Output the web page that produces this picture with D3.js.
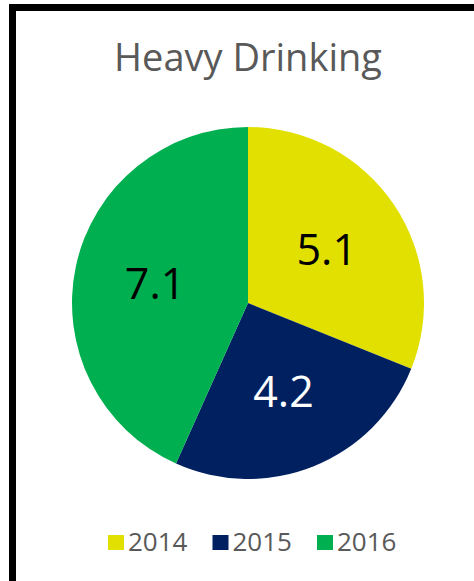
<!DOCTYPE html>
<html>
<head>
<meta charset="utf-8">
<script src="https://cdn.jsdelivr.net/npm/d3@7"></script>
<style>
  html, body { margin: 0; padding: 0; background: #fff; }
  svg { display: block; }
</style>
</head>
<body>
<div id="chart"></div>
<script>
const years = ['2014', '2015', '2016'];
const values = [5.1, 4.2, 7.1];
const colors = ['#E1E000', '#002060', '#00B050'];
const labelColors = ['#000000', '#ffffff', '#000000'];

const width = 474,
  height = 581,
  radius = 176,
  center = { x: 248, y: 303 };

const svg = d3.select('#chart').
  append('svg').
  attr('width', width).
  attr('height', height);

svg.append('rect').
  attr('width', width).
  attr('height', height).
  attr('fill', '#fff');

// frame lines (top and left)
svg.append('rect').
  attr('x', 9).attr('y', 4).
  attr('width', width - 9).attr('height', 7).
  attr('fill', '#000');
svg.append('rect').
  attr('x', 9).attr('y', 4).
  attr('width', 7).attr('height', height - 4).
  attr('fill', '#000');

svg.append('text').
  attr('x', 248).
  attr('y', 71).
  attr('text-anchor', 'middle').
  style('font-family', 'Open Sans, sans-serif').
  style('font-size', '38px').
  attr('fill', '#595959').
  text('Heavy Drinking');

const pie = d3.pie().sort(null).value(d => d)(values);
const arc = d3.arc().innerRadius(0).outerRadius(radius);
const labelArc = d3.arc().innerRadius(95).outerRadius(95);

const g = svg.append('g').
  attr('transform', `translate(${center.x},${center.y})`);

g.selectAll('path').
  data(pie).
  enter().
  append('path').
  attr('d', arc).
  attr('fill', (d, i) => colors[i]);

g.selectAll('text').
  data(pie).
  enter().
  append('text').
  attr('transform', d => `translate(${labelArc.centroid(d)})`).
  attr('text-anchor', 'middle').
  attr('dy', '0.36em').
  style('font-family', 'Open Sans, sans-serif').
  style('font-size', '43px').
  attr('fill', (d, i) => labelColors[i]).
  text(d => d.data.toFixed(1));

const legendX = d3.scalePoint().domain(years).range([108, 317]);

const legend = svg.append('g').
  selectAll('g').
  data(years).
  enter().
  append('g').
  attr('transform', d => `translate(${legendX(d)},535)`);

legend.append('rect').
  attr('width', 16).
  attr('height', 15).
  attr('fill', (d, i) => colors[i]);

legend.append('text').
  attr('x', 20).
  attr('y', 16).
  style('font-family', 'Open Sans, sans-serif').
  style('font-size', '26px').
  attr('fill', '#595959').
  text(d => d);
</script>
</body>
</html>
